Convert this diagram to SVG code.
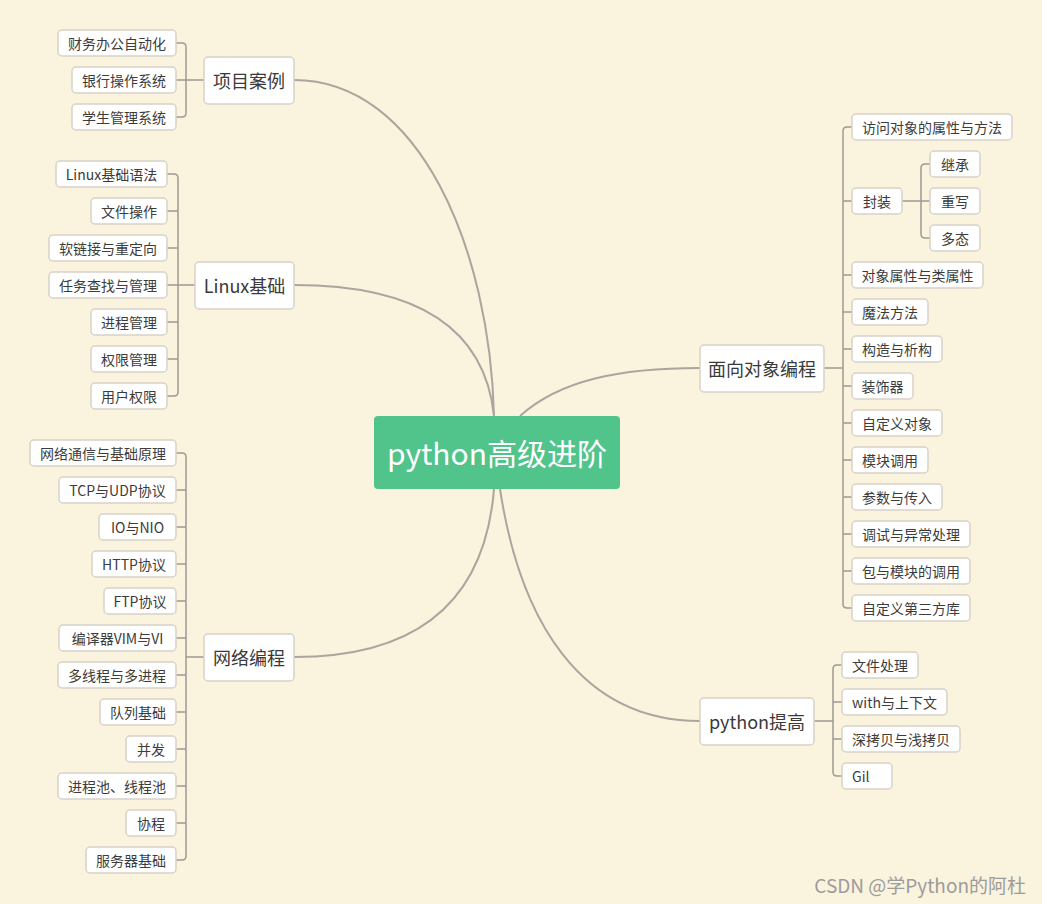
<svg xmlns="http://www.w3.org/2000/svg" width="1042" height="904" viewBox="0 0 1042 904">
<style>
.bg{fill:#FAF3DD}
.box{fill:#FFFFFF;stroke:#D8D2C9;stroke-width:1.5}
.t{font-family:"Noto Sans CJK SC","Liberation Sans",sans-serif;font-size:14px;fill:#3C3C3C;text-anchor:middle;dominant-baseline:central}
.tm{font-family:"Noto Sans CJK SC","Liberation Sans",sans-serif;font-size:18px;fill:#3A3A3A;text-anchor:middle;dominant-baseline:central}
.main{fill:none;stroke:#ABA59F;stroke-width:2}
.br{fill:none;stroke:#9E9994;stroke-width:1.5}
</style>
<rect class="bg" x="0" y="0" width="1042" height="904"/>
<g id="connectors">
<path class="main" d="M494 416 C490 250 420 80 294 80"/>
<path class="main" d="M494 416 C485 330 420 285 294 285"/>
<path class="main" d="M494 489 C485 600 420 657 294 657"/>
<path class="main" d="M520 416 C560 380 620 368 700 368"/>
<path class="main" d="M500 489 C520 620 580 721 700 721"/>
<path class="br" d="M176 43 H182 Q186 43 186 47 V113 Q186 117 182 117 H176 M176 80 H204"/>
<path class="br" d="M167 174 H174 Q178 174 178 178 V392 Q178 396 174 396 H167 M167 211 H178 M167 248 H178 M167 285 H195 M167 322 H178 M167 359 H178"/>
<path class="br" d="M176 453 H182 Q186 453 186 457 V856 Q186 860 182 860 H176 M176 490 H186 M176 527 H186 M176 564 H186 M176 601 H186 M176 638 H186 M176 675 H186 M176 712 H186 M176 749 H186 M176 786 H186 M176 823 H186 M186 657 H204"/>
<path class="br" d="M852 127 H847 Q843 127 843 131 V604 Q843 608 847 608 H852 M843 201 H852 M843 275 H852 M843 312 H852 M843 349 H852 M843 386 H852 M843 423 H852 M843 460 H852 M843 497 H852 M843 534 H852 M843 571 H852 M824 368 H843"/>
<path class="br" d="M930 164 H925 Q921 164 921 168 V234 Q921 238 925 238 H930 M902 201 H930"/>
<path class="br" d="M842 665 H837 Q833 665 833 669 V772 Q833 776 837 776 H842 M833 702 H842 M833 739 H842 M814 721 H833"/>
</g>
<g id="root">
<rect x="374" y="416" width="246" height="73" rx="4" fill="#51C48C"/>
<text x="497" y="452" font-family="Noto Sans CJK SC,Liberation Sans,sans-serif" font-size="30" fill="#FFFFFF" text-anchor="middle" dominant-baseline="central">python高级进阶</text>
</g>
<g id="n-xiangmu"><rect class="box" x="204" y="57" width="90" height="47" rx="4"/><text class="tm" x="249" y="80">项目案例</text></g>
<g id="n-linux"><rect class="box" x="195" y="262" width="99" height="47" rx="4"/><text class="tm" x="244.5" y="285">Linux基础</text></g>
<g id="n-wangluo"><rect class="box" x="204" y="634" width="90" height="47" rx="4"/><text class="tm" x="249" y="657">网络编程</text></g>
<g id="n-oop"><rect class="box" x="700" y="345" width="124" height="47" rx="4"/><text class="tm" x="762" y="368">面向对象编程</text></g>
<g id="n-tigao"><rect class="box" x="700" y="698" width="114" height="47" rx="4"/><text class="tm" x="757" y="721">python提高</text></g>

<g id="c1"><rect class="box" x="58" y="30" width="118" height="26" rx="4"/><text class="t" x="117" y="43">财务办公自动化</text></g>
<g id="c2"><rect class="box" x="72" y="67" width="104" height="26" rx="4"/><text class="t" x="124" y="80">银行操作系统</text></g>
<g id="c3"><rect class="box" x="72" y="104" width="104" height="26" rx="4"/><text class="t" x="124" y="117">学生管理系统</text></g>

<g id="l1"><rect class="box" x="56" y="161" width="111" height="26" rx="4"/><text class="t" x="111.5" y="174">Linux基础语法</text></g>
<g id="l2"><rect class="box" x="91" y="198" width="76" height="26" rx="4"/><text class="t" x="129" y="211">文件操作</text></g>
<g id="l3"><rect class="box" x="49" y="235" width="118" height="26" rx="4"/><text class="t" x="108" y="248">软链接与重定向</text></g>
<g id="l4"><rect class="box" x="49" y="272" width="118" height="26" rx="4"/><text class="t" x="108" y="285">任务查找与管理</text></g>
<g id="l5"><rect class="box" x="91" y="309" width="76" height="26" rx="4"/><text class="t" x="129" y="322">进程管理</text></g>
<g id="l6"><rect class="box" x="91" y="346" width="76" height="26" rx="4"/><text class="t" x="129" y="359">权限管理</text></g>
<g id="l7"><rect class="box" x="91" y="383" width="76" height="26" rx="4"/><text class="t" x="129" y="396">用户权限</text></g>

<g id="w1"><rect class="box" x="30" y="440" width="146" height="26" rx="4"/><text class="t" x="103" y="453">网络通信与基础原理</text></g>
<g id="w2"><rect class="box" x="59" y="477" width="117" height="26" rx="4"/><text class="t" x="117.5" y="490">TCP与UDP协议</text></g>
<g id="w3"><rect class="box" x="99" y="514" width="77" height="26" rx="4"/><text class="t" x="137.5" y="527">IO与NIO</text></g>
<g id="w4"><rect class="box" x="92" y="551" width="84" height="26" rx="4"/><text class="t" x="134" y="564">HTTP协议</text></g>
<g id="w5"><rect class="box" x="104" y="588" width="72" height="26" rx="4"/><text class="t" x="140" y="601">FTP协议</text></g>
<g id="w6"><rect class="box" x="59" y="625" width="117" height="26" rx="4"/><text class="t" x="117.5" y="638">编译器VIM与VI</text></g>
<g id="w7"><rect class="box" x="58" y="662" width="118" height="26" rx="4"/><text class="t" x="117" y="675">多线程与多进程</text></g>
<g id="w8"><rect class="box" x="100" y="699" width="76" height="26" rx="4"/><text class="t" x="138" y="712">队列基础</text></g>
<g id="w9"><rect class="box" x="126" y="736" width="50" height="26" rx="4"/><text class="t" x="151" y="749">并发</text></g>
<g id="w10"><rect class="box" x="58" y="773" width="118" height="26" rx="4"/><text class="t" x="117" y="786">进程池、线程池</text></g>
<g id="w11"><rect class="box" x="126" y="810" width="50" height="26" rx="4"/><text class="t" x="151" y="823">协程</text></g>
<g id="w12"><rect class="box" x="86" y="847" width="90" height="26" rx="4"/><text class="t" x="131" y="860">服务器基础</text></g>

<g id="o1"><rect class="box" x="852" y="114" width="160" height="26" rx="4"/><text class="t" x="932" y="127">访问对象的属性与方法</text></g>
<g id="o2"><rect class="box" x="852" y="188" width="50" height="26" rx="4"/><text class="t" x="877" y="201">封装</text></g>
<g id="o2a"><rect class="box" x="930" y="151" width="50" height="26" rx="4"/><text class="t" x="955" y="164">继承</text></g>
<g id="o2b"><rect class="box" x="930" y="188" width="50" height="26" rx="4"/><text class="t" x="955" y="201">重写</text></g>
<g id="o2c"><rect class="box" x="930" y="225" width="50" height="26" rx="4"/><text class="t" x="955" y="238">多态</text></g>
<g id="o3"><rect class="box" x="852" y="262" width="131" height="26" rx="4"/><text class="t" x="917.5" y="275">对象属性与类属性</text></g>
<g id="o4"><rect class="box" x="852" y="299" width="76" height="26" rx="4"/><text class="t" x="890" y="312">魔法方法</text></g>
<g id="o5"><rect class="box" x="852" y="336" width="90" height="26" rx="4"/><text class="t" x="897" y="349">构造与析构</text></g>
<g id="o6"><rect class="box" x="852" y="373" width="61" height="26" rx="4"/><text class="t" x="882.5" y="386">装饰器</text></g>
<g id="o7"><rect class="box" x="852" y="410" width="90" height="26" rx="4"/><text class="t" x="897" y="423">自定义对象</text></g>
<g id="o8"><rect class="box" x="852" y="447" width="76" height="26" rx="4"/><text class="t" x="890" y="460">模块调用</text></g>
<g id="o9"><rect class="box" x="852" y="484" width="90" height="26" rx="4"/><text class="t" x="897" y="497">参数与传入</text></g>
<g id="o10"><rect class="box" x="852" y="521" width="118" height="26" rx="4"/><text class="t" x="911" y="534">调试与异常处理</text></g>
<g id="o11"><rect class="box" x="852" y="558" width="118" height="26" rx="4"/><text class="t" x="911" y="571">包与模块的调用</text></g>
<g id="o12"><rect class="box" x="852" y="595" width="118" height="26" rx="4"/><text class="t" x="911" y="608">自定义第三方库</text></g>

<g id="p1"><rect class="box" x="842" y="652" width="76" height="26" rx="4"/><text class="t" x="880" y="665">文件处理</text></g>
<g id="p2"><rect class="box" x="842" y="689" width="105" height="26" rx="4"/><text class="t" x="894.5" y="702">with与上下文</text></g>
<g id="p3"><rect class="box" x="842" y="726" width="118" height="26" rx="4"/><text class="t" x="901" y="739">深拷贝与浅拷贝</text></g>
<g id="p4"><rect class="box" x="842" y="763" width="50" height="26" rx="4"/><text class="t" x="852" y="776" style="text-anchor:start">Gil</text></g>

<text x="1026" y="884" font-family="Noto Sans CJK SC,Liberation Sans,sans-serif" font-size="19" fill="#9C9C9C" text-anchor="end" dominant-baseline="central">CSDN @学Python的阿杜</text>
</svg>
